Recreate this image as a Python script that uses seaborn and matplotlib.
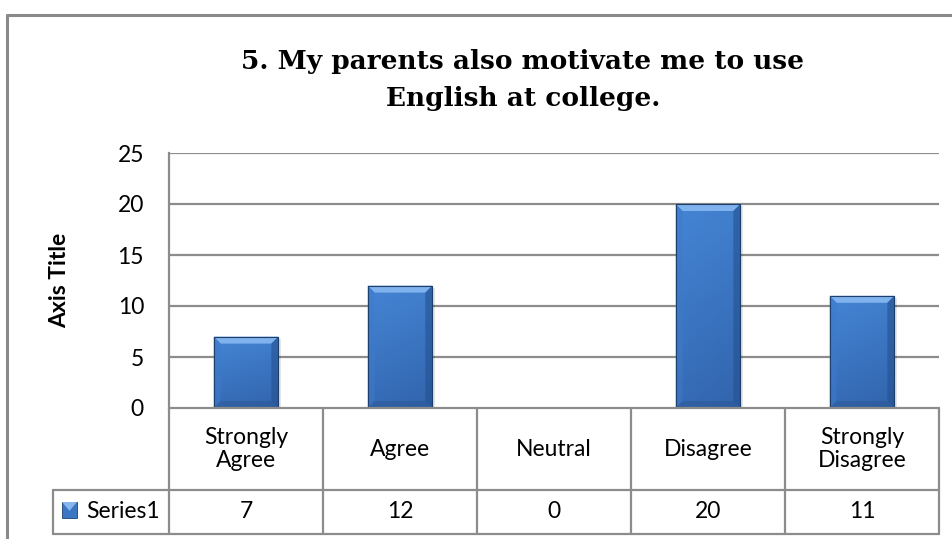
import numpy as np
import pandas as pd
import matplotlib
matplotlib.use("Agg")
import matplotlib.pyplot as plt
import matplotlib.transforms as mtransforms
from matplotlib.colors import LinearSegmentedColormap
from matplotlib.patches import Polygon, Rectangle
from matplotlib.lines import Line2D
import seaborn as sns

# Survey responses
categories = ["Strongly Agree", "Agree", "Neutral", "Disagree", "Strongly Disagree"]
header_labels = ["Strongly\nAgree", "Agree", "Neutral", "Disagree", "Strongly\nDisagree"]
counts = [7, 12, 0, 20, 11]
series_name = "Series1"
y_ticks = [0, 5, 10, 15, 20, 25]
title = "5. My parents also motivate me to use\nEnglish at college."

df = pd.DataFrame({"category": categories, "count": counts})

sns.set_theme(style="white")
plt.rcParams["font.family"] = ["Lato", "DejaVu Sans"]

W, H, DPI = 953, 539, 100
FS = 16.5
fig = plt.figure(figsize=(W / DPI, H / DPI), dpi=DPI)
fig.patch.set_facecolor("white")

# plot area in pixel terms
px_left, px_right, px_top, px_bottom = 169, 939, 153, 408
ax = fig.add_axes([px_left / W, 1 - px_bottom / H,
                   (px_right - px_left) / W, (px_bottom - px_top) / H])

GRID = "#8c8c8c"
BAR = "#3b76c4"

sns.barplot(data=df, x="category", y="count", color=BAR, width=0.42,
            saturation=1, edgecolor="#1d416f", linewidth=0.8, ax=ax, zorder=3)

ax.set_xlim(-0.5, len(categories) - 0.5)
ax.set_ylim(0, 25)
ax.set_yticks(y_ticks)
ax.set_yticklabels([str(t) for t in y_ticks], fontsize=FS, color="black")
ax.tick_params(axis="y", length=0, pad=18)
ax.set_xticks([])
ax.set_xlabel("")
ax.set_ylabel("Axis Title", fontsize=FS, fontweight="bold", color="black")
ax.yaxis.set_label_coords(-0.128, 0.5)

for s in ["top", "right", "bottom"]:
    ax.spines[s].set_visible(False)
ax.spines["left"].set_color(GRID)
ax.spines["left"].set_linewidth(1.6)
for t in y_ticks[1:]:
    ax.axhline(t, color=GRID, lw=1.6, zorder=1)

# per-unit sizes in data coordinates
units_per_px_y = 25 / (px_bottom - px_top)
units_per_px_x = len(categories) / (px_right - px_left)

grad_cmap = LinearSegmentedColormap.from_list("bar_grad", ["#4585d4", "#3b75c2", "#3264ac"])
grad = np.linspace(0, 1, 64).reshape(-1, 1) * np.ones((1, 16))
grad = grad * 0.8 + np.linspace(0, 0.2, 16).reshape(1, -1)

bars = list(ax.patches)
for p in bars:
    x0, y0 = p.get_x(), p.get_y()
    w, h = p.get_width(), p.get_height()
    if h <= 0:
        continue
    x1, y1 = x0 + w, y0 + h
    # soft drop shadow
    ax.add_patch(Rectangle((x0 + 3 * units_per_px_x, y0), w, h - 2 * units_per_px_y,
                           facecolor="#000000", alpha=0.10, lw=0, zorder=2))
    im = ax.imshow(grad, cmap=grad_cmap, extent=(x0, x1, y0, y1), origin="upper",
                   aspect="auto", zorder=3.5, vmin=0, vmax=1)
    im.set_clip_path(p)
    dx = 7 * units_per_px_x
    dy = 7 * units_per_px_y
    top = Polygon([(x0, y1), (x1, y1), (x1 - dx, y1 - dy), (x0 + dx, y1 - dy)],
                  closed=True, facecolor="#80b2ee", edgecolor="none", zorder=4)
    left = Polygon([(x0, y1), (x0 + dx, y1 - dy), (x0 + dx, y0 + dy), (x0, y0)],
                   closed=True, facecolor="#3f7acb", edgecolor="none", alpha=0.5, zorder=4)
    right = Polygon([(x1, y1), (x1 - dx, y1 - dy), (x1 - dx, y0 + dy), (x1, y0)],
                    closed=True, facecolor="#24518f", edgecolor="none", alpha=0.6, zorder=4)
    bot = Polygon([(x0, y0), (x0 + dx, y0 + dy), (x1 - dx, y0 + dy), (x1, y0)],
                  closed=True, facecolor="#2a568f", edgecolor="none", alpha=0.45, zorder=4)
    for poly in (top, left, right, bot):
        ax.add_patch(poly)
    ax.add_patch(Rectangle((x0, y0), w, h, facecolor="none", edgecolor="#1d3f6c",
                           lw=0.8, zorder=4.5))

ax.set_xlim(-0.5, len(categories) - 0.5)
ax.set_ylim(0, 25)

# data table below the plot: x in data units, y in axes fraction
tr = mtransforms.blended_transform_factory(ax.transData, ax.transAxes)
row1 = (px_bottom - 490) / (px_bottom - px_top)
row2 = (px_bottom - 534) / (px_bottom - px_top)
label_left = -0.5 - (px_left - 53) * units_per_px_x
xl, xr = -0.5, len(categories) - 0.5

def hline(y, xa, xb):
    ax.add_line(Line2D([xa, xb], [y, y], transform=tr, color=GRID, lw=1.6,
                       clip_on=False, zorder=5))

def vline(x, ya, yb):
    ax.add_line(Line2D([x, x], [ya, yb], transform=tr, color=GRID, lw=1.6,
                       clip_on=False, zorder=5))

hline(0, xl, xr)
hline(row1, label_left, xr)
hline(row2, label_left, xr)
for i in range(len(categories) + 1):
    vline(-0.5 + i, row2, 0)
vline(label_left, row2, row1)

for i, (lab, val) in enumerate(zip(header_labels, counts)):
    ax.text(i, row1 / 2, lab, transform=tr, ha="center", va="center",
            fontsize=FS, color="black", linespacing=1.15, clip_on=False)
    ax.text(i, (row1 + row2) / 2, str(val), transform=tr, ha="center", va="center",
            fontsize=FS, color="black", clip_on=False)

# legend key in the series cell
key_x0 = label_left + 9 * units_per_px_x
key_w = 15 * units_per_px_x
key_h = 16 / (px_bottom - px_top)
key_y0 = (px_bottom - 518) / (px_bottom - px_top)
ax.add_patch(Rectangle((key_x0, key_y0), key_w, key_h, transform=tr, facecolor=BAR,
                       edgecolor="#1d416f", lw=0.6, clip_on=False, zorder=5))
ax.add_patch(Polygon([(key_x0, key_y0 + key_h), (key_x0 + key_w, key_y0 + key_h),
                      (key_x0 + key_w / 2, key_y0 + key_h * 0.45)], closed=True,
                     transform=tr, facecolor="#86b6ee", edgecolor="none",
                     clip_on=False, zorder=5.5))
ax.text(label_left + 33 * units_per_px_x, (row1 + row2) / 2, series_name, transform=tr,
        ha="left", va="center", fontsize=FS, color="black", clip_on=False)

# chart title
fig.text(523 / W, 1 - 80 / H, title, ha="center", va="center", fontsize=19,
         fontweight="bold", family="DejaVu Serif", linespacing=1.62, color="black")

# chart frame (top and left edges visible)
fig.add_artist(Line2D([7 / W, 1.0], [1 - 15 / H, 1 - 15 / H], transform=fig.transFigure,
                      color="#8a8a8a", lw=2.2))
fig.add_artist(Line2D([7 / W, 7 / W], [0, 1 - 15 / H], transform=fig.transFigure,
                      color="#8a8a8a", lw=2.2))

fig.savefig("out.png", dpi=DPI, facecolor="white")
